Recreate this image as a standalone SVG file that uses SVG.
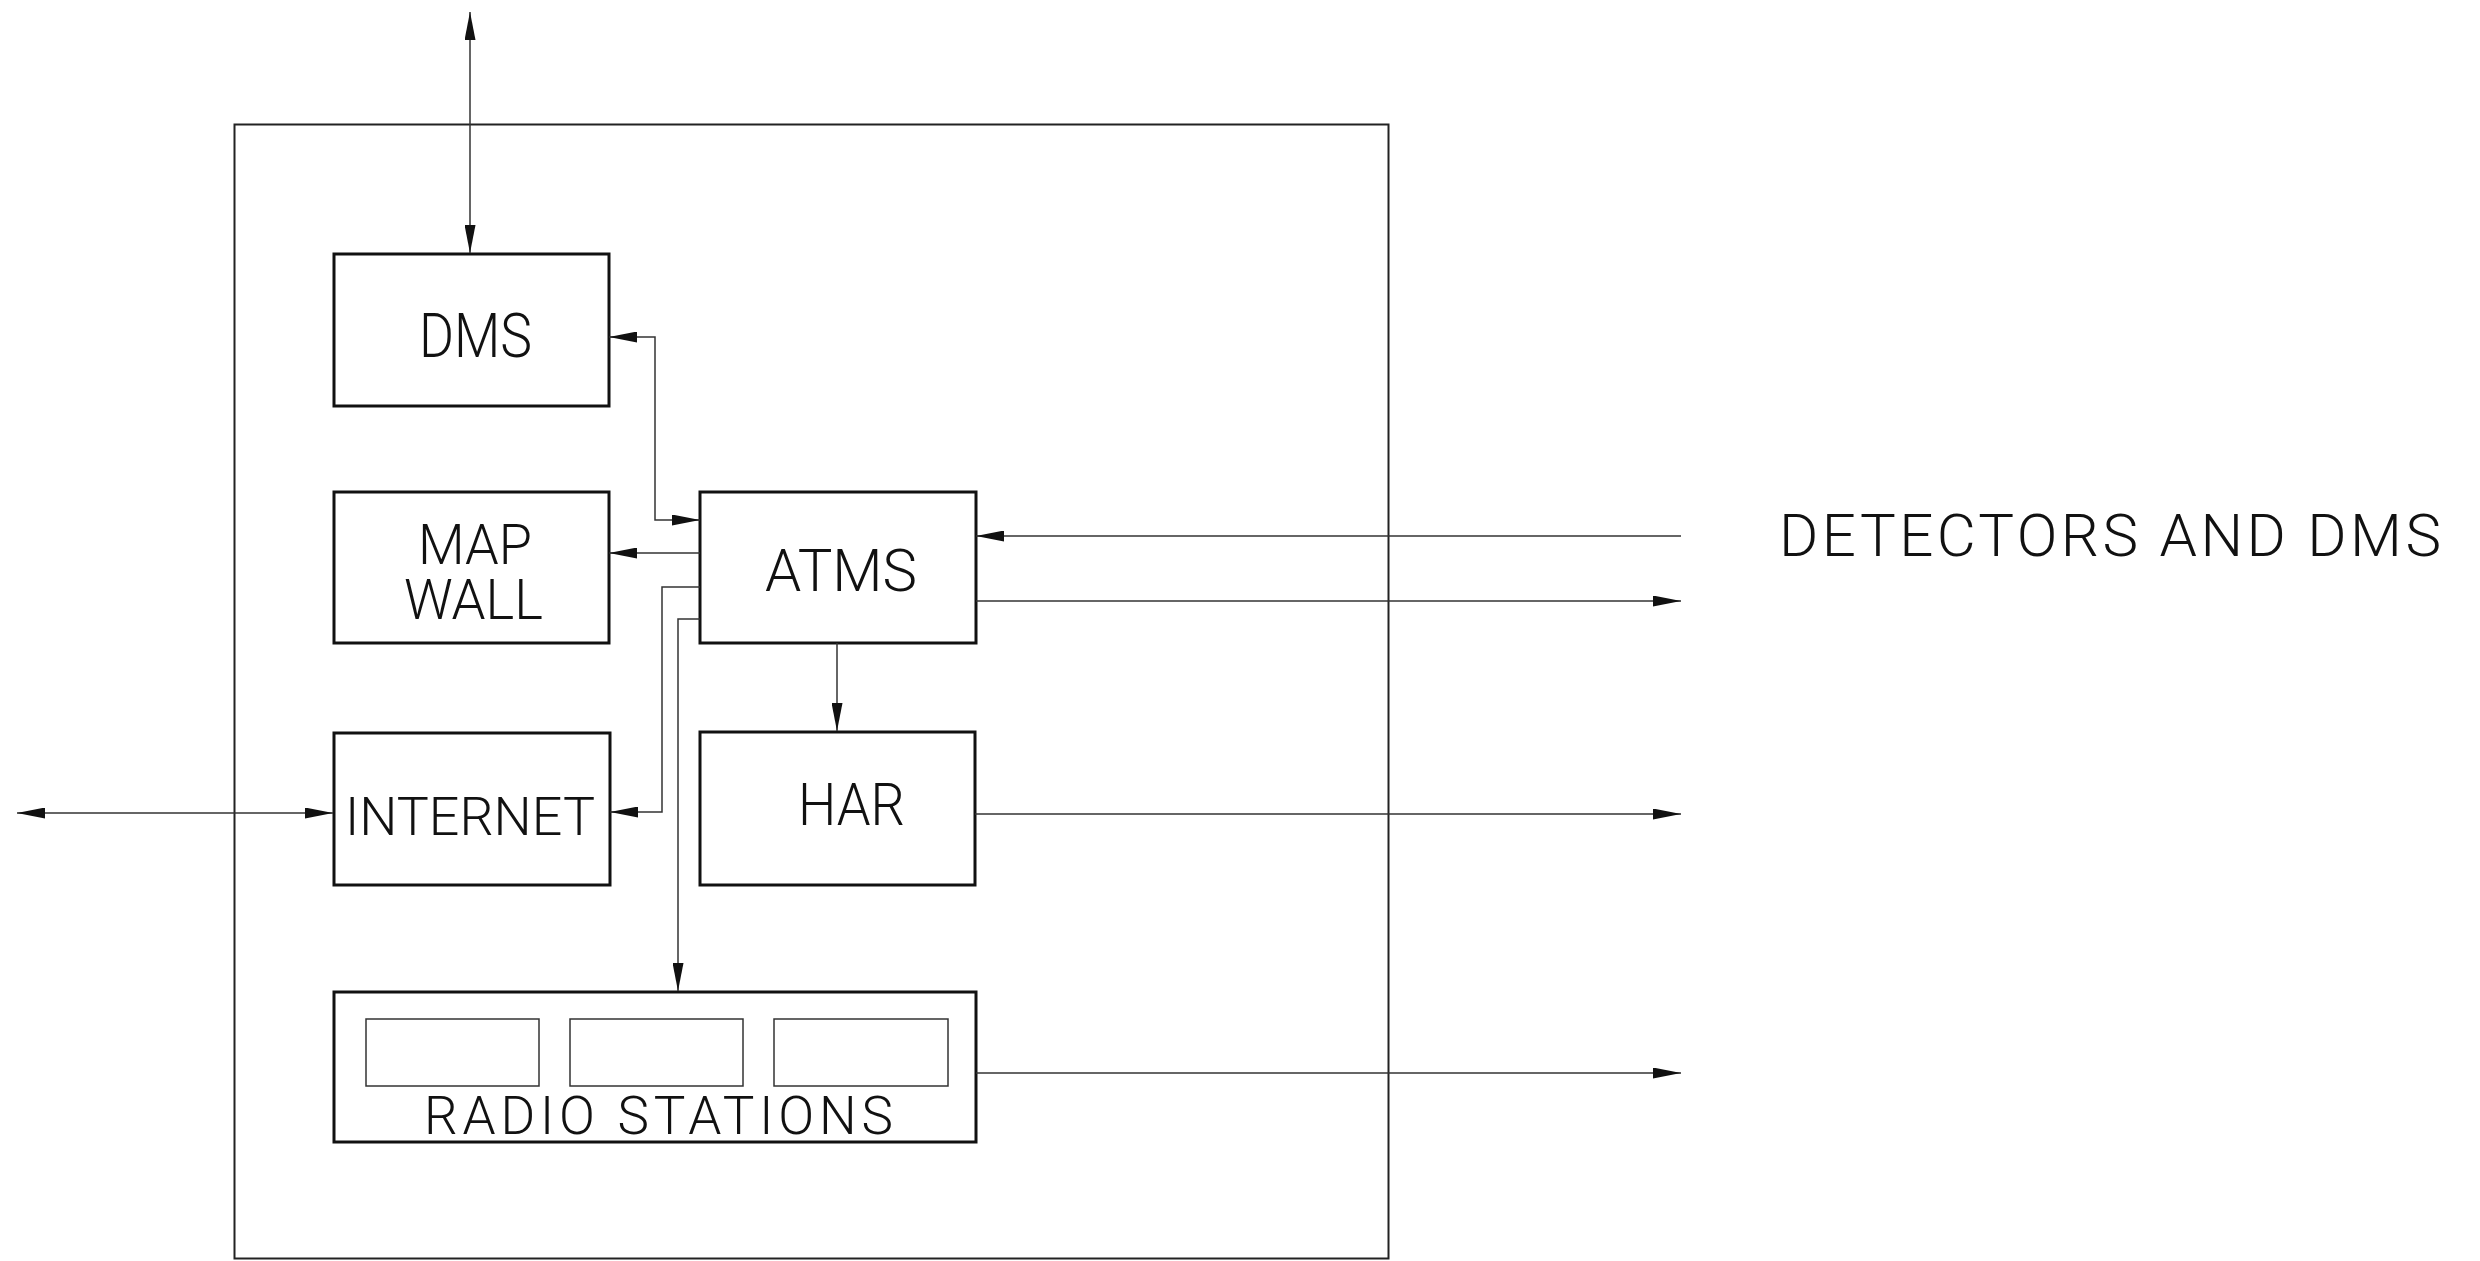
<svg xmlns="http://www.w3.org/2000/svg" width="2480" height="1261" viewBox="0 0 2480 1261">
<style>
.box{fill:none;stroke:#111;stroke-width:3}
.frame{fill:none;stroke:#222;stroke-width:2}
.slot{fill:none;stroke:#333;stroke-width:1.5}
.conn{fill:none;stroke:#333;stroke-width:1.5}
.lbl{font-family:Roboto,"Liberation Sans",sans-serif;font-weight:300;fill:#111}
</style>
<defs>
<marker id="ah" viewBox="0 0 28 11" refX="28" refY="5.5" markerWidth="28" markerHeight="11" markerUnits="userSpaceOnUse" orient="auto-start-reverse">
<path d="M0,0 L28,5.5 L0,11 z" fill="#111"/>
</marker>
</defs>
<rect width="2480" height="1261" fill="#fff"/>
<rect id="center" class="frame" x="234.5" y="124.5" width="1154" height="1134"/>
<g id="dms"><rect class="box" x="334" y="254" width="275" height="152"/><text class="lbl" x="419" y="357" font-size="61" textLength="113" lengthAdjust="spacingAndGlyphs">DMS</text></g>
<g id="mapwall"><rect class="box" x="334" y="492" width="275" height="151"/><text class="lbl" font-size="56"><tspan x="418" y="564" textLength="114" lengthAdjust="spacingAndGlyphs">MAP</tspan><tspan x="404" y="619" textLength="139" lengthAdjust="spacingAndGlyphs">WALL</tspan></text></g>
<g id="atms"><rect class="box" x="700" y="492" width="276" height="151"/><text class="lbl" x="765" y="591" font-size="60" textLength="152" lengthAdjust="spacingAndGlyphs">ATMS</text></g>
<g id="internet"><rect class="box" x="334" y="733" width="276" height="152"/><text class="lbl" x="345" y="835" font-size="54" textLength="250" lengthAdjust="spacingAndGlyphs">INTERNET</text></g>
<g id="har"><rect class="box" x="700" y="732" width="275" height="153"/><text class="lbl" x="798" y="825" font-size="60" textLength="107" lengthAdjust="spacingAndGlyphs">HAR</text></g>
<g id="radio"><rect class="box" x="334" y="992" width="642" height="150"/><rect class="slot" x="366" y="1019" width="173" height="67"/><rect class="slot" x="570" y="1019" width="173" height="67"/><rect class="slot" x="774" y="1019" width="174" height="67"/><text class="lbl" x="424" y="1134" font-size="53" textLength="469" lengthAdjust="spacing">RADIO STATIONS</text></g>
<g id="detectors"><text class="lbl" x="1779" y="556" font-size="60" textLength="662" lengthAdjust="spacing">DETECTORS AND DMS</text></g>
<g id="connectors" class="conn">
<path d="M470,12 V253" marker-start="url(#ah)" marker-end="url(#ah)"/>
<path d="M609,337 H655 V520 H700" marker-start="url(#ah)" marker-end="url(#ah)"/>
<path d="M700,553 H609" marker-end="url(#ah)"/>
<path d="M700,587 H662 V812 H610" marker-end="url(#ah)"/>
<path d="M700,619 H678 V991" marker-end="url(#ah)"/>
<path d="M837,643 V731" marker-end="url(#ah)"/>
<path d="M17,813 H333" marker-start="url(#ah)" marker-end="url(#ah)"/>
<path d="M1681,536 H976" marker-end="url(#ah)"/>
<path d="M976,601 H1681" marker-end="url(#ah)"/>
<path d="M975,814 H1681" marker-end="url(#ah)"/>
<path d="M976,1073 H1681" marker-end="url(#ah)"/>
</g>
</svg>
